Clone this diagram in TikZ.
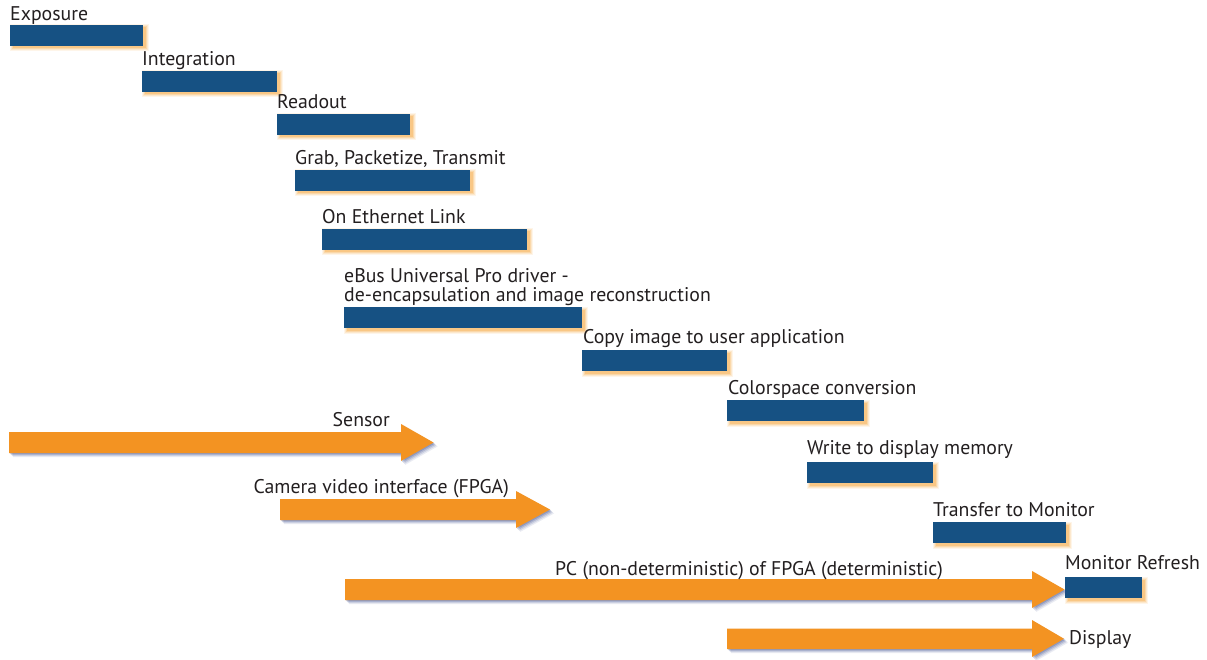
\documentclass[tikz,border=0pt]{standalone}
\usepackage{fontspec}
\setmainfont{PT Sans}
\definecolor{barblue}{HTML}{165183}
\definecolor{arrorange}{HTML}{F39322}
\definecolor{glow}{HTML}{F7A030}
\definecolor{shade}{HTML}{34458A}
\definecolor{txt}{HTML}{231F20}
\tikzset{
  bluebar/.style={fill=barblue, draw=none, inner sep=0pt, outer sep=0pt, anchor=north west},
  lbl/.style={text=txt, font=\fontsize{19.8}{16.5}\selectfont, inner sep=0pt, anchor=base west, align=left},
  orangearrow/.style={fill=arrorange, draw=none},
  arrowshade/.style={fill=shade, draw=none},
}
% name, x1, y1, x2, y2
\newcommand\glowbar[5]{%
  \foreach \k/\o in {3.5/0.10,2.5/0.15,1.5/0.22,0.5/0.3}{%
    \fill[glow,opacity=\o] ({#2+3-\k},{#3+3-\k}) rectangle ({#4+2+\k},{#5+2+\k});}
  \node[bluebar, minimum width={#4-#2}, minimum height={#5-#3}] (#1) at (#2,#3) {};
}
% name, x1, shaft top, shaft bottom, head x, head top, head bottom, tip x
\newcommand\oarrow[8]{%
  \foreach \k/\o in {1/0.25,2/0.2,3/0.15,4/0.1}{%
    \fill[arrowshade,opacity=\o,shift={(\k,\k)}] (#2,#3) -- (#5,#3) -- (#5,#6) -- (#8,{(#3+#4)/2}) -- (#5,#7) -- (#5,#4) -- (#2,#4) -- cycle;}
  \fill[orangearrow] (#2,#3) -- (#5,#3) -- (#5,#6) -- (#8,{(#3+#4)/2}) -- (#5,#7) -- (#5,#4) -- (#2,#4) -- cycle;
  \coordinate (#1) at (#8,{(#3+#4)/2});
}
\begin{document}
\begin{tikzpicture}[x=1pt,y=-1pt]
\useasboundingbox[fill=white] (0,0) rectangle (1207,660);

% bars
\glowbar{b1}{10}{25}{143}{46}
\glowbar{b2}{142}{71}{277}{92}
\glowbar{b3}{277}{114}{410}{135}
\glowbar{b4}{295}{170}{470}{191}
\glowbar{b5}{322}{229}{527}{250}
\glowbar{b6}{344}{307}{582}{328}
\glowbar{b7}{582}{350}{727}{371}
\glowbar{b8}{727}{400}{864}{421}
\glowbar{b9}{807}{462}{933}{483}
\glowbar{b10}{933}{522}{1066}{543}
\glowbar{b11}{1065}{577}{1142}{598}

\node[lbl] (t1) at (10,21) {Exposure};
\node[lbl] (t2) at (142,66) {Integration};
\node[lbl] (t3) at (277,109) {Readout};
\node[lbl] (t4) at (295,165) {Grab, Packetize, Transmit};
\node[lbl] (t5) at (322,224) {On Ethernet Link};
\node[lbl, font=\fontsize{19.8}{18.5}\selectfont] (t6) at (344,301.5) {eBus Universal Pro driver -\\de-encapsulation and image reconstruction};
\node[lbl] (t7) at (583,343.5) {Copy image to user application};
\node[lbl] (t8) at (728,394) {Colorspace conversion};
\node[lbl] (t9) at (807,454) {Write to display memory};
\node[lbl] (t10) at (933,516) {Transfer to Monitor};
\node[lbl] (t11) at (1065,569) {Monitor Refresh};

% arrows
\oarrow{a1}{9}{432}{453}{401}{424}{461}{433.5}
\oarrow{a2}{280}{499}{520}{516}{491}{528}{550}
\oarrow{a3}{345}{579}{600}{1032}{571}{608}{1064.5}
\oarrow{a4}{727}{628.5}{649}{1032}{620}{657}{1064}

\node[lbl, anchor=base east] (s1) at (390,426.7) {Sensor};
\node[lbl, anchor=base east] (s2) at (509,493.3) {Camera video interface (FPGA)};
\node[lbl] (s3) at (555,575.7) {PC (non-deterministic) of FPGA (deterministic)};
\node[lbl] (s4) at (1069,644) {Display};
\end{tikzpicture}
\end{document}
